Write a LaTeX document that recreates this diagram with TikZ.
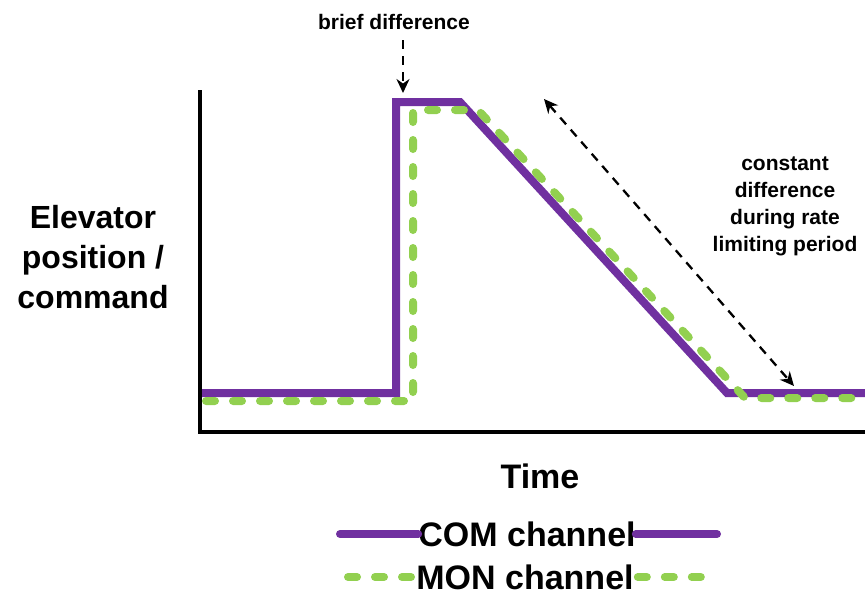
\documentclass[tikz,border=0pt]{standalone}
\usepackage{fontspec}
\setmainfont{Liberation Sans}
\usetikzlibrary{arrows.meta,positioning,calc}
\definecolor{compurple}{HTML}{7030A0}
\definecolor{mongreen}{HTML}{92D050}

\begin{document}
\begin{tikzpicture}[x=1pt,y=-1pt,>={Stealth[length=14pt,width=13pt]},
    axis/.style={line width=4.5pt,line cap=rect},
    comline/.style={compurple,line width=8pt,line join=miter},
    monline/.style={mongreen,line width=8pt,line cap=round,dash pattern=on 9pt off 18pt},
    lbl/.style={font=\bfseries\fontsize{21}{27}\selectfont,align=center,inner sep=0pt},
    biglbl/.style={font=\bfseries\fontsize{32}{40}\selectfont,align=center,inner sep=0pt},
    leglbl/.style={font=\bfseries\fontsize{34}{40}\selectfont,inner sep=0pt},
    note/.style={line width=2.3pt,dash pattern=on 9pt off 7pt}]
  \useasboundingbox (0,0) rectangle (865,598);
  % axes
  \coordinate (org) at (200,432);
  \coordinate (ytop) at (200,92);
  \coordinate (xend) at (865,432);
  \draw[axis] (ytop) -- (org) -- (xend);
  % COM channel
  \coordinate (c0) at (202,393);
  \coordinate (c1) at (396,393);
  \coordinate (c2) at (396,102);
  \coordinate (c3) at (460,102);
  \coordinate (c4) at (727,393);
  \coordinate (c5) at (865,393);
  \draw[comline] (c0) -- (c1) -- (c2) -- (c3) -- (c4) -- (c5);
  % MON channel
  \coordinate (m0) at (206,401);
  \coordinate (m1) at (413,401);
  \coordinate (m2) at (413,110);
  \coordinate (m3) at (478,110);
  \coordinate (m4) at (745,398);
  \coordinate (m5) at (865,398);
  \draw[monline] (m0) -- (m1) -- (m2) -- (m3) -- (m4) -- (m5);
  % labels
  \node[lbl] (brief) at (394,22) {brief difference};
  \coordinate (briefend) at (403,93);
  \draw[note,->] (403,40) -- (briefend);
  \node[lbl] (const) at (785,206) {constant\\difference\\during rate\\limiting period};
  \coordinate (rateA) at (544,99);
  \coordinate (rateB) at (794,386);
  \draw[note,<->] (rateA) -- (rateB);
  \node[biglbl] (ylab) at (93,257) {Elevator\\position /\\command};
  \node[leglbl] (xlab) at (540,476) {Time};
  % legend
  \node[leglbl] (com) at (527,534) {COM channel};
  \node[leglbl] (mon) at (525,577) {MON channel};
  \coordinate (comL) at (340,534);
  \coordinate (comR) at (717,534);
  \draw[comline,line cap=round] (comL) -- (com.west);
  \draw[comline,line cap=round] (com.east) -- (comR);
  \coordinate (monL) at (348,577);
  \coordinate (monR) at (716,577);
  \draw[monline] (monL) -- ([xshift=-2pt]mon.west);
  \draw[monline] ([xshift=4pt]mon.east) -- (monR);
\end{tikzpicture}
\end{document}
